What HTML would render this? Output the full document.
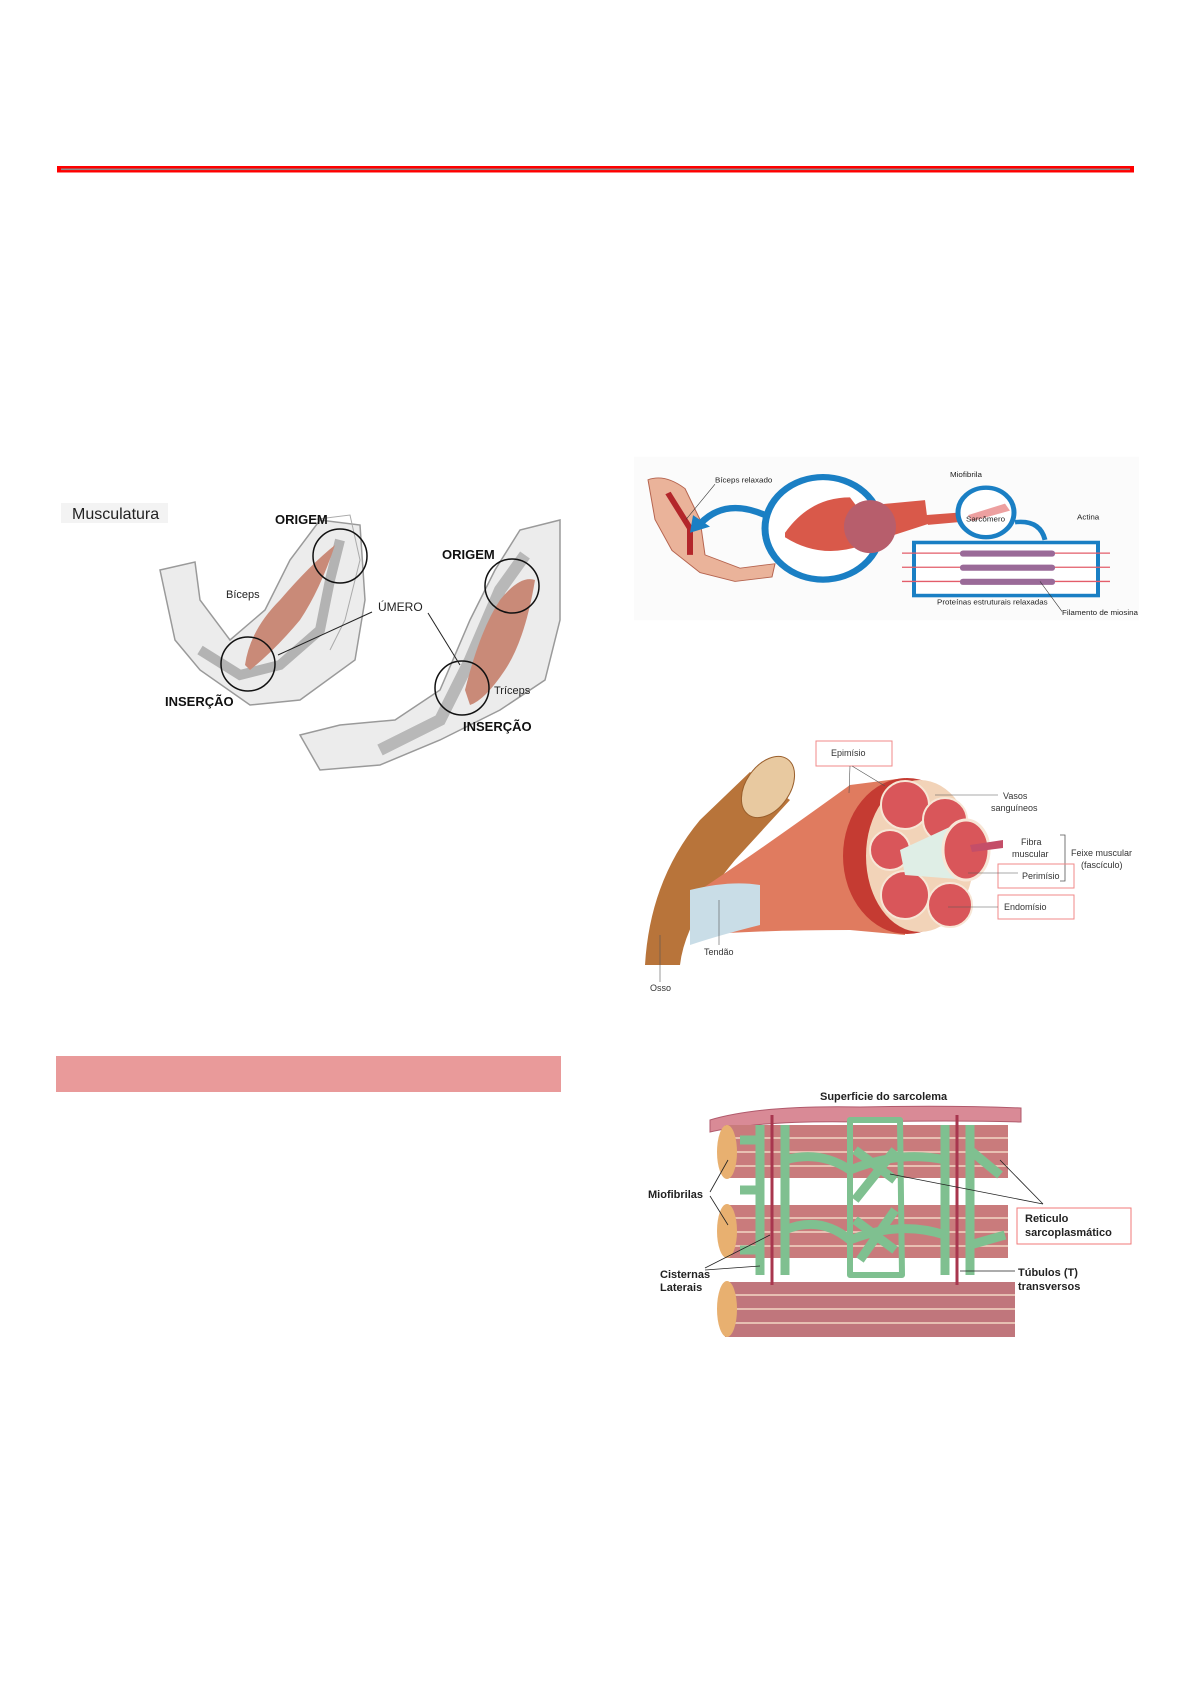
<!DOCTYPE html>
<html><head><meta charset="utf-8"><style>
html,body{margin:0;padding:0;background:#fff}
svg{display:block}
text{font-family:"Liberation Sans",sans-serif}
</style></head><body>
<svg width="1191" height="1684" viewBox="0 0 1191 1684" xmlns="http://www.w3.org/2000/svg">
<rect width="1191" height="1684" fill="#fff"/>
<!-- header line -->
<rect x="57" y="166" width="1077" height="6.5" fill="#ff0000"/>
<rect x="61" y="168.5" width="1069" height="1.6" fill="#8a8a8a"/>
<!-- pink bar -->
<rect x="56" y="1056" width="505" height="36" fill="#e99a9a"/>

<!-- LEFT IMAGE: arms -->
<rect x="61" y="503" width="107" height="20" fill="#f3f3f3"/>
<text x="72" y="519" font-size="16" fill="#222">Musculatura</text>
<path d="M160 570 L195 562 L200 600 L230 640 L265 610 L290 560 L320 520 L360 525 L365 600 L355 660 L300 700 L250 705 L200 670 L175 640 Z" fill="#ececec" stroke="#9a9a9a" stroke-width="1.5"/>
<path d="M310 520 L350 515 L360 560 L345 620 L330 650" fill="none" stroke="#aaa" stroke-width="1"/>
<path d="M200 650 L240 675 L280 665 L320 630 L330 580 L340 540" fill="none" stroke="#8e8e8e" stroke-width="10" opacity="0.6"/>
<path d="M245 665 Q250 630 280 600 Q310 565 335 545 Q320 590 300 620 Q275 650 250 670 Z" fill="#c98a78"/>
<circle cx="340" cy="556" r="27" fill="none" stroke="#111" stroke-width="1.5"/>
<circle cx="248" cy="664" r="27" fill="none" stroke="#111" stroke-width="1.5"/>
<text x="275" y="524" font-size="13" font-weight="bold" fill="#111">ORIGEM</text>
<text x="226" y="598" font-size="11" fill="#222">Bíceps</text>
<text x="165" y="706" font-size="13" font-weight="bold" fill="#111">INSERÇÃO</text>
<text x="378" y="611" font-size="12" fill="#222">ÚMERO</text>
<line x1="372" y1="612" x2="278" y2="655" stroke="#222" stroke-width="1"/>
<path d="M300 735 L340 725 L395 720 L440 690 L470 620 L495 570 L520 530 L560 520 L560 620 L545 680 L500 710 L440 740 L380 765 L320 770 Z" fill="#ececec" stroke="#9a9a9a" stroke-width="1.5"/>
<path d="M380 750 L440 720 L470 660 L500 590 L525 555" fill="none" stroke="#8e8e8e" stroke-width="12" opacity="0.55"/>
<path d="M465 690 Q480 630 500 600 Q520 575 535 580 Q525 640 505 670 Q485 700 470 705 Z" fill="#c98a78"/>
<circle cx="512" cy="586" r="27" fill="none" stroke="#111" stroke-width="1.5"/>
<circle cx="462" cy="688" r="27" fill="none" stroke="#111" stroke-width="1.5"/>
<text x="442" y="559" font-size="13" font-weight="bold" fill="#111">ORIGEM</text>
<text x="494" y="694" font-size="11" fill="#222">Tríceps</text>
<text x="463" y="731" font-size="13" font-weight="bold" fill="#111">INSERÇÃO</text>
<line x1="428" y1="613" x2="460" y2="665" stroke="#222" stroke-width="1"/>

<!-- TOP RIGHT IMAGE -->
<g transform="translate(0,51) scale(1,0.884)">
<rect x="634" y="459" width="505" height="185" fill="#fbfbfb"/>
<path d="M648 485 Q665 478 685 495 L700 530 L705 570 L740 585 L775 580 L772 595 L735 600 L700 590 L672 565 L655 530 Z" fill="#eab39a" stroke="#b5644f" stroke-width="1"/>
<path d="M668 500 L690 540 L690 570" fill="none" stroke="#b3262a" stroke-width="6"/>
<text x="715" y="488" font-size="8" fill="#222">Bíceps relaxado</text>
<line x1="715" y1="490" x2="686" y2="530" stroke="#333" stroke-width="0.6"/>
<path d="M765 525 Q725 505 700 535" fill="none" stroke="#1a7fc4" stroke-width="7"/>
<polygon points="690,545 693,525 710,538" fill="#1a7fc4"/>
<circle cx="823" cy="540" r="58" fill="#fff" stroke="#1a7fc4" stroke-width="7"/>
<path d="M785 545 Q810 505 850 505 L860 520 L860 560 Q820 575 785 550 Z" fill="#d9594a"/>
<path d="M860 515 L925 508 L928 535 L860 560 Z" fill="#d9594a"/>
<ellipse cx="870" cy="538" rx="26" ry="30" fill="#b75e6c"/>
<path d="M925 525 L985 520 L988 530 L928 536 Z" fill="#d9594a"/>
<text x="950" y="482" font-size="8" fill="#222">Miofibrila</text>
<circle cx="986" cy="522" r="28" fill="#fff" stroke="#1a7fc4" stroke-width="5"/>
<path d="M968 525 L1005 512 L1010 520 L972 532 Z" fill="#eda0a0"/>
<text x="966" y="532" font-size="8" fill="#222">Sarcômero</text>
<path d="M1015 533 Q1040 530 1045 553" fill="none" stroke="#1a7fc4" stroke-width="5"/>
<rect x="914" y="556" width="184" height="60" fill="#fff" stroke="#1a7fc4" stroke-width="4"/>
<g stroke="#e35d6a" stroke-width="1.5">
<line x1="902" y1="568" x2="1110" y2="568"/><line x1="902" y1="584" x2="1110" y2="584"/><line x1="902" y1="600" x2="1110" y2="600"/>
</g>
<g fill="#9a6a98"><rect x="960" y="565" width="95" height="7" rx="3"/><rect x="960" y="581" width="95" height="7" rx="3"/><rect x="960" y="597" width="95" height="7" rx="3"/></g>
<text x="1077" y="530" font-size="8" fill="#222">Actina</text>
<text x="937" y="626" font-size="8" fill="#222">Proteínas estruturais relaxadas</text>
<text x="1062" y="638" font-size="8" fill="#222">Filamento de miosina</text>
<line x1="1040" y1="600" x2="1062" y2="634" stroke="#333" stroke-width="0.6"/>
</g>

<!-- MIDDLE RIGHT IMAGE: epimysium -->
<path d="M645 965 Q650 880 700 820 L750 772 L790 800 L735 860 Q685 920 680 965 Z" fill="#b8743a"/>
<ellipse cx="768" cy="787" rx="22" ry="34" transform="rotate(35 768 787)" fill="#e8c9a0" stroke="#9a5f2c"/>
<path d="M700 890 Q760 850 850 785 L905 778 L905 935 L850 930 Q760 930 700 935 Z" fill="#e07b5f"/>
<path d="M690 890 Q730 880 760 885 L760 925 Q720 935 690 945 Z" fill="#c9dde7"/>
<ellipse cx="907" cy="856" rx="64" ry="78" fill="#c53b32"/>
<ellipse cx="920" cy="856" rx="54" ry="76" fill="#f2d3b8"/>
<g fill="#d9565a" stroke="#f7e6d6" stroke-width="2">
<circle cx="905" cy="805" r="24"/><circle cx="945" cy="820" r="22"/><circle cx="890" cy="850" r="20"/><circle cx="905" cy="895" r="24"/><circle cx="950" cy="905" r="22"/>
</g>
<path d="M900 850 L965 820 L970 880 L905 875 Z" fill="#dfeee6"/>
<ellipse cx="966" cy="850" rx="23" ry="30" fill="#d9565a" stroke="#f7e6d6" stroke-width="3"/>
<path d="M970 845 L1003 840 L1003 848 L972 852 Z" fill="#c44e68"/>
<rect x="816" y="741" width="76" height="25" fill="none" stroke="#f08a8a" stroke-width="1"/>
<text x="831" y="756" font-size="9" fill="#333">Epimísio</text>
<line x1="850" y1="766" x2="849" y2="793" stroke="#555" stroke-width="0.6"/>
<line x1="852" y1="766" x2="885" y2="786" stroke="#555" stroke-width="0.6"/>
<text x="1003" y="799" font-size="9" fill="#333">Vasos</text>
<text x="991" y="811" font-size="9" fill="#333">sanguíneos</text>
<line x1="935" y1="795" x2="998" y2="795" stroke="#555" stroke-width="0.6"/>
<text x="1021" y="845" font-size="9" fill="#333">Fibra</text>
<text x="1012" y="857" font-size="9" fill="#333">muscular</text>
<text x="1071" y="856" font-size="9" fill="#333">Feixe muscular</text>
<text x="1081" y="868" font-size="9" fill="#333">(fascículo)</text>
<path d="M1060 835 L1065 835 L1065 881 L1060 881" fill="none" stroke="#555" stroke-width="0.8"/>
<rect x="998" y="864" width="76" height="24" fill="none" stroke="#f08a8a" stroke-width="1"/>
<text x="1022" y="879" font-size="9" fill="#333">Perimísio</text>
<line x1="968" y1="873" x2="1018" y2="873" stroke="#555" stroke-width="0.6"/>
<rect x="998" y="895" width="76" height="24" fill="none" stroke="#f08a8a" stroke-width="1"/>
<text x="1004" y="910" font-size="9" fill="#333">Endomísio</text>
<line x1="948" y1="907" x2="998" y2="907" stroke="#555" stroke-width="0.6"/>
<text x="704" y="955" font-size="9" fill="#333">Tendão</text>
<line x1="719" y1="900" x2="719" y2="945" stroke="#555" stroke-width="0.6"/>
<text x="650" y="991" font-size="9" fill="#333">Osso</text>
<line x1="660" y1="935" x2="660" y2="982" stroke="#555" stroke-width="0.6"/>

<!-- BOTTOM RIGHT: sarcoplasmic reticulum -->
<text x="820" y="1100" font-size="11" font-weight="bold" fill="#222">Superficie do sarcolema</text>
<path d="M710 1120 Q760 1105 860 1107 Q950 1105 1021 1108 L1021 1122 Q950 1120 860 1122 Q760 1120 710 1132 Z" fill="#d98a96" stroke="#b05a6c" stroke-width="1"/>
<rect x="725" y="1125" width="283" height="53" fill="#c97b7c"/>
<rect x="725" y="1205" width="283" height="53" fill="#c97b7c"/>
<rect x="725" y="1282" width="290" height="55" fill="#c0767c"/>
<g stroke="#f0d2c0" stroke-width="2" opacity="0.8">
<line x1="725" y1="1138" x2="1008" y2="1138"/><line x1="725" y1="1152" x2="1008" y2="1152"/><line x1="725" y1="1166" x2="1008" y2="1166"/>
<line x1="725" y1="1218" x2="1008" y2="1218"/><line x1="725" y1="1232" x2="1008" y2="1232"/><line x1="725" y1="1246" x2="1008" y2="1246"/>
<line x1="725" y1="1295" x2="1015" y2="1295"/><line x1="725" y1="1309" x2="1015" y2="1309"/><line x1="725" y1="1323" x2="1015" y2="1323"/>
</g>
<ellipse cx="727" cy="1152" rx="10" ry="27" fill="#e8b070"/>
<ellipse cx="727" cy="1231" rx="10" ry="27" fill="#e8b070"/>
<ellipse cx="727" cy="1309" rx="10" ry="28" fill="#e8b070"/>
<g fill="none" stroke="#7fc090" stroke-width="9" stroke-linejoin="round">
<path d="M760 1125 L760 1275"/><path d="M785 1125 L785 1275"/>
<path d="M945 1125 L945 1275"/><path d="M970 1125 L970 1275"/>
<path d="M785 1160 Q820 1150 850 1170 Q900 1150 945 1160"/>
<path d="M785 1230 Q820 1215 850 1240 Q900 1220 945 1235"/>
<path d="M740 1140 L760 1140 M740 1190 L760 1190 M740 1250 L760 1250 M970 1150 L1000 1175 M970 1245 L1005 1235"/>
<path d="M850 1120 L900 1120 L902 1275 L850 1275 Z" stroke-width="6"/>
<path d="M855 1150 L895 1180 M895 1150 L855 1200 M855 1220 L895 1250 M895 1210 L860 1260"/>
</g>
<line x1="772" y1="1115" x2="772" y2="1285" stroke="#a8364e" stroke-width="3"/>
<line x1="957" y1="1115" x2="957" y2="1285" stroke="#a8364e" stroke-width="3"/>
<text x="648" y="1198" font-size="11" font-weight="bold" fill="#222">Miofibrilas</text>
<line x1="710" y1="1192" x2="728" y2="1160" stroke="#222" stroke-width="0.8"/>
<line x1="710" y1="1196" x2="728" y2="1225" stroke="#222" stroke-width="0.8"/>
<text x="660" y="1278" font-size="11" font-weight="bold" fill="#222">Cisternas</text>
<text x="660" y="1291" font-size="11" font-weight="bold" fill="#222">Laterais</text>
<line x1="705" y1="1268" x2="770" y2="1235" stroke="#222" stroke-width="0.8"/>
<line x1="705" y1="1270" x2="760" y2="1266" stroke="#222" stroke-width="0.8"/>
<rect x="1017" y="1208" width="114" height="36" fill="none" stroke="#f07a7a" stroke-width="1"/>
<text x="1025" y="1222" font-size="11" font-weight="bold" fill="#222">Reticulo</text>
<text x="1025" y="1236" font-size="11" font-weight="bold" fill="#222">sarcoplasmático</text>
<line x1="1043" y1="1204" x2="890" y2="1174" stroke="#222" stroke-width="0.8"/>
<line x1="1043" y1="1204" x2="1000" y2="1160" stroke="#222" stroke-width="0.8"/>
<text x="1018" y="1276" font-size="11" font-weight="bold" fill="#222">Túbulos (T)</text>
<text x="1018" y="1290" font-size="11" font-weight="bold" fill="#222">transversos</text>
<line x1="1015" y1="1271" x2="960" y2="1271" stroke="#222" stroke-width="0.8"/>
</svg>
</body></html>
